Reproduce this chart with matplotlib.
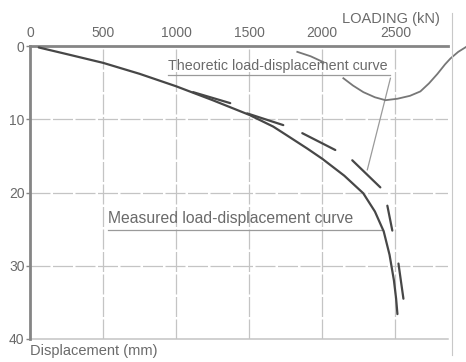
import numpy as np
import matplotlib as mpl
mpl.use("Agg")
import matplotlib.pyplot as plt
from matplotlib.lines import Line2D

mpl.rcParams.update({"font.family": ["Liberation Sans", "DejaVu Sans"]})

TXT = "#6a6a6a"; CURVE = "#474747"; GRID = "#c4c4c4"; SPINE = "#858585"

# ---- data ----
load_ticks = [0, 500, 1000, 1500, 2000, 2500]
disp_ticks = [0, 10, 20, 30, 40]

# measured load-displacement curve (kN, mm)
meas_load = [60, 250, 500, 750, 1000, 1250, 1500, 1664, 1750, 1897, 2000, 2150, 2280, 2360, 2420,
             2460, 2490, 2505, 2514]
meas_disp = [0.2, 1.1, 2.3, 3.8, 5.5, 7.4, 9.4, 11.0, 12.1, 14.0, 15.4, 17.7, 20.1, 22.6, 25.3,
             28.5, 32.0, 34.5, 36.6]

# theoretic curve, drawn as long dashes (start/end of each dash)
theo_load = [[1116, 1370], [1486, 1733], [1863, 2089], [2205, 2397], [2445, 2479], [2521, 2555]]
theo_disp = [[6.3, 7.8], [9.2, 10.8], [11.9, 14.2], [15.6, 19.3], [21.8, 25.2], [29.7, 34.5]]

# stray curve at top right (gap where the label sits)
top_load = [1829, 1920, 2007, np.nan, 2144, 2210, 2281, 2360, 2432, 2514, 2600, 2671, 2730, 2788,
            2840, 2877, 2930, 2986]
top_disp = [0.8, 1.4, 2.2, np.nan, 4.4, 5.4, 6.3, 7.0, 7.4, 7.2, 6.8, 6.2, 5.1, 3.8,
            2.5, 1.7, 0.8, 0.1]

# ---- figure ----
fig = plt.figure(figsize=(4.66, 3.62), dpi=100)
ax = fig.add_axes([30/466, 23/362, 418/466, 293/362])
ax.set_xlim(0, 2860); ax.set_ylim(40, 0)

for v in load_ticks[1:]:
    ax.axvline(v, color=GRID, lw=0.9, dashes=(16, 2), zorder=1)
for v in disp_ticks[1:-1]:
    ax.axhline(v, color=GRID, lw=0.9, dashes=(16, 2), zorder=1)
ax.axhline(40, color=GRID, lw=1.1, zorder=1, clip_on=False)

ax.plot(meas_load, meas_disp, color=CURVE, lw=1.6, solid_capstyle="round", solid_joinstyle="round", zorder=3)
for xs, ys in zip(theo_load, theo_disp):
    ax.plot(xs, ys, color=CURVE, lw=1.6, solid_capstyle="round", zorder=3)
ax.plot(top_load, top_disp, color="#777777", lw=1.3, solid_joinstyle="round", zorder=3, clip_on=False)

# labels with underline + leaders
ax.text(945, 2.75, "Theoretic load-displacement curve", fontsize=10.3, color=TXT, va="center", ha="left")
ax.plot([945, 2466], [4.0, 4.0], color="#9a9a9a", lw=0.9)
ax.plot([2466, 2308], [4.4, 16.9], color="#9a9a9a", lw=0.9)
ax.text(534, 23.6, "Measured load-displacement curve", fontsize=11.3, color=TXT, va="center", ha="left")
ax.plot([534, 2418], [25.1, 25.1], color="#9a9a9a", lw=0.9)

# axes styling
ax.xaxis.tick_top()
ax.set_xticks(load_ticks); ax.set_yticks(disp_ticks)
ax.tick_params(axis="x", length=0, pad=4, labelsize=10, labelcolor=TXT)
ax.tick_params(axis="y", length=3, width=1, color=SPINE, pad=1, labelsize=10, labelcolor=TXT)
for s in ("right", "bottom"):
    ax.spines[s].set_visible(False)
ax.spines["top"].set_color(SPINE); ax.spines["top"].set_linewidth(2)
ax.spines["left"].set_color(SPINE); ax.spines["left"].set_linewidth(2)

fig.text(440/466, 1 - 19/362, "LOADING (kN)", fontsize=10.5, color=TXT, ha="right", va="center")
fig.text(30/466, 1 - 351/362, "Displacement (mm)", fontsize=10.5, color=TXT, ha="left", va="center")
# page edge at right of the scan
fig.add_artist(Line2D([452/466, 452/466], [1 - 13/362, 1 - 355/362], color="#c8c8c8", lw=0.8))

fig.savefig("out.png", dpi=100, facecolor="white")
